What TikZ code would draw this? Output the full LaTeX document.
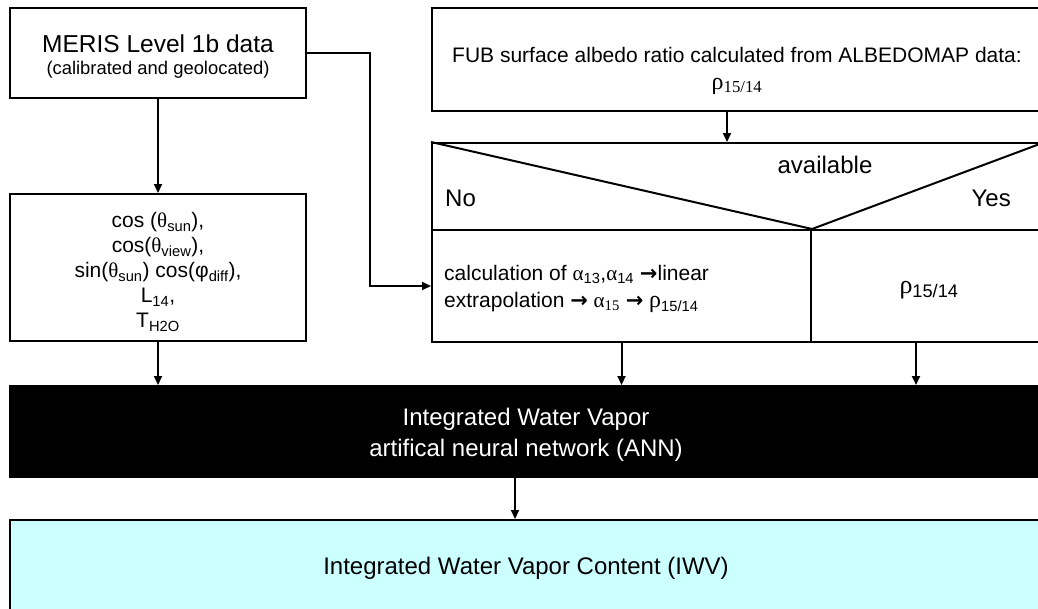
\documentclass[tikz,border=0pt]{standalone}
\usepackage{fontspec}
\setmainfont{Liberation Sans}
\newfontfamily\grk{Liberation Serif}
\newfontfamily\arrf{DejaVu Sans}
\usetikzlibrary{arrows.meta}
\definecolor{iwvcyan}{RGB}{204,255,255}
\newcommand{\sbx}[1]{\textsubscript{#1}}
\newcommand{\rarr}{{\arrf\fontseries{b}\selectfont →}}
\begin{document}
\begin{tikzpicture}[x=1pt,y=-1pt,
  box/.style={draw=black,line width=2pt,rectangle,inner sep=0pt,anchor=center},
  arr/.style={line width=2pt,-{Triangle[length=9pt,width=8pt]}},
  txt/.style={inner sep=0pt,font=\fontsize{21}{25}\selectfont},
  big/.style={inner sep=0pt,font=\fontsize{24}{31}\selectfont}]
\useasboundingbox (0,0) rectangle (1038,608);
\clip (0,0) rectangle (1038,608);
% boxes
\node[box,minimum width=612pt,minimum height=103pt] (fub) at (738,59.5) {};
\node[box,minimum width=296pt,minimum height=90pt] (meris) at (158,53) {};
\node[box,minimum width=296pt,minimum height=147pt] (params) at (158,267.5) {};
\node[box,minimum width=612pt,minimum height=87pt] (dec) at (738,186.5) {};
\node[box,minimum width=379pt,minimum height=112pt] (calc) at (621.5,286) {};
\node[box,minimum width=233pt,minimum height=112pt] (yescell) at (927.5,286) {};
\node[box,fill=black,minimum width=1036pt,minimum height=91pt] (ann) at (528,431.5) {};
\node[box,fill=iwvcyan,minimum width=1036pt,minimum height=100pt] (iwv) at (528,570) {};
\draw[line width=2pt] (dec.north west) -- (calc.north east) -- (dec.north east);
% texts
\node[inner sep=0pt,font=\fontsize{24.5}{28}\selectfont] (merist) at (158,44) {MERIS Level 1b data};
\node[inner sep=0pt,font=\fontsize{18.4}{22}\selectfont] (merisst) at (158,70) {(calibrated and geolocated)};
\node[txt,align=center] (paramst) at (158,272) {cos ({\grk θ}\sbx{sun}),\\
cos({\grk θ}\sbx{view}),\\
sin({\grk θ}\sbx{sun}) cos(φ\sbx{diff}),\\
L\sbx{14},\\
T\sbx{H2O}};
\node[txt] (fubt) at (737,55) {FUB surface albedo ratio calculated from ALBEDOMAP data:};
\node[inner sep=0pt,font=\fontsize{24}{28}\selectfont] (fubrho) at (737,86) {{\grk ρ\sbx{15/14}}};
\node[big] (avail) at (825,165) {available};
\node[big,anchor=west] (no) at (445,198) {No};
\node[big,anchor=east] (yes) at (1011,198) {Yes};
\node[txt,anchor=west,align=left,font=\fontsize{21}{27}\selectfont] (calct) at (444,289)
  {calculation of {\grk α}\sbx{13},{\grk α}\sbx{14} \rarr linear\\
   extrapolation \rarr\ {\grk α\sbx{15}} \rarr\ {\grk\fontsize{24}{27}\selectfont ρ}\sbx{15/14}};
\node[inner sep=0pt,font=\fontsize{26}{31}\selectfont] (yest) at (929,290) {{\grk ρ}\sbx{15/14}};
\node[big,align=center,text=white] (annt) at (526,434.5) {Integrated Water Vapor\\artifical neural network (ANN)};
\node[big] (iwvt) at (526,568) {Integrated Water Vapor Content (IWV)};
% connectors
\draw[arr] (meris.east) -- ++(63,0) |- (calc.west);
\draw[arr] (meris.south) -- (params.north);
\draw[arr] (params.south) -- (params.south |- ann.north);
\draw[arr] ([xshift=-11pt]fub.south) -- ([xshift=-11pt]dec.north);
\draw[arr] (calc.south) -- (calc.south |- ann.north);
\draw[arr] ([xshift=-11.5pt]yescell.south) -- ([xshift=-11.5pt]yescell.south |- ann.north);
\draw[arr] ([xshift=-13pt]ann.south) -- ([xshift=-13pt]iwv.north);
\end{tikzpicture}
\end{document}
